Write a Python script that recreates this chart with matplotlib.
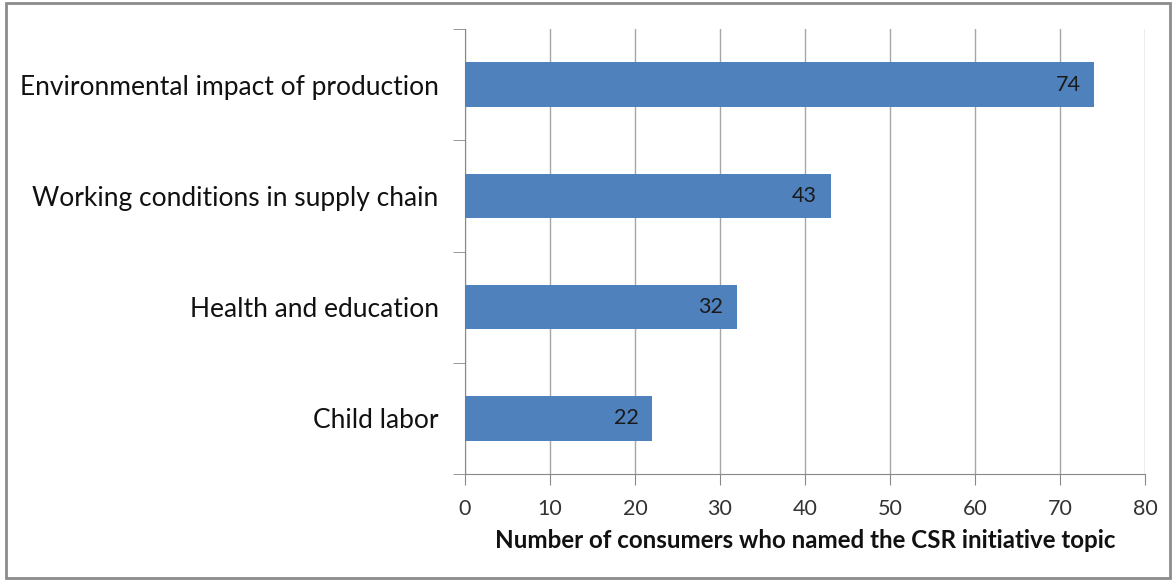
import matplotlib
matplotlib.use("Agg")
import matplotlib.pyplot as plt
from matplotlib.patches import Rectangle

# CSR topics named by consumers
topics = ["Environmental impact of production",
          "Working conditions in supply chain",
          "Health and education",
          "Child labor"]
counts = [74, 43, 32, 22]
xticks = [0, 10, 20, 30, 40, 50, 60, 70, 80]

plt.rcParams["font.family"] = ["Lato", "DejaVu Sans"]

W, H = 1174, 582
fig = plt.figure(figsize=(W / 100, H / 100), dpi=100)
ax = fig.add_axes([465 / W, (H - 474) / H, 680 / W, 445 / H])

ypos = list(range(len(topics)))[::-1]
ax.barh(ypos, counts, height=0.4, color="#4F81BD", zorder=3)
for y, v in zip(ypos, counts):
    ax.text(v - 1.6, y, str(v), ha="right", va="center", fontsize=15.5,
            color="#1a1a1a", zorder=4)

ax.set_xlim(0, 80)
ax.set_ylim(-0.5, len(topics) - 0.5)
ax.set_xticks(xticks)
ax.set_xticklabels([str(t) for t in xticks], fontsize=15.5, color="#333333")
ax.set_yticks(ypos)
ax.set_yticklabels(topics, fontsize=19, color="#111111")
ax.tick_params(axis="y", length=0, pad=19)
ax.tick_params(axis="x", length=8, color="#888888", pad=10)

# category boundary ticks on the y axis
ax.set_yticks([i - 0.5 for i in range(len(topics) + 1)], minor=True)
ax.tick_params(axis="y", which="minor", length=9, color="#888888")

ax.grid(axis="x", color="#a6a6a6", linewidth=1, zorder=0)
for s in ["top", "right"]:
    ax.spines[s].set_visible(False)
for s in ["left", "bottom"]:
    ax.spines[s].set_color("#888888")
ax.set_xlabel("Number of consumers who named the CSR initiative topic",
              fontsize=17.4, fontweight="bold", color="#111111", labelpad=7)

# outer frame
fig.patches.append(Rectangle((6 / W, 4 / H), 1164 / W, 575 / H,
                             transform=fig.transFigure, fill=False,
                             edgecolor="#8c8c8c", linewidth=2))

fig.savefig("out.png", dpi=100)
